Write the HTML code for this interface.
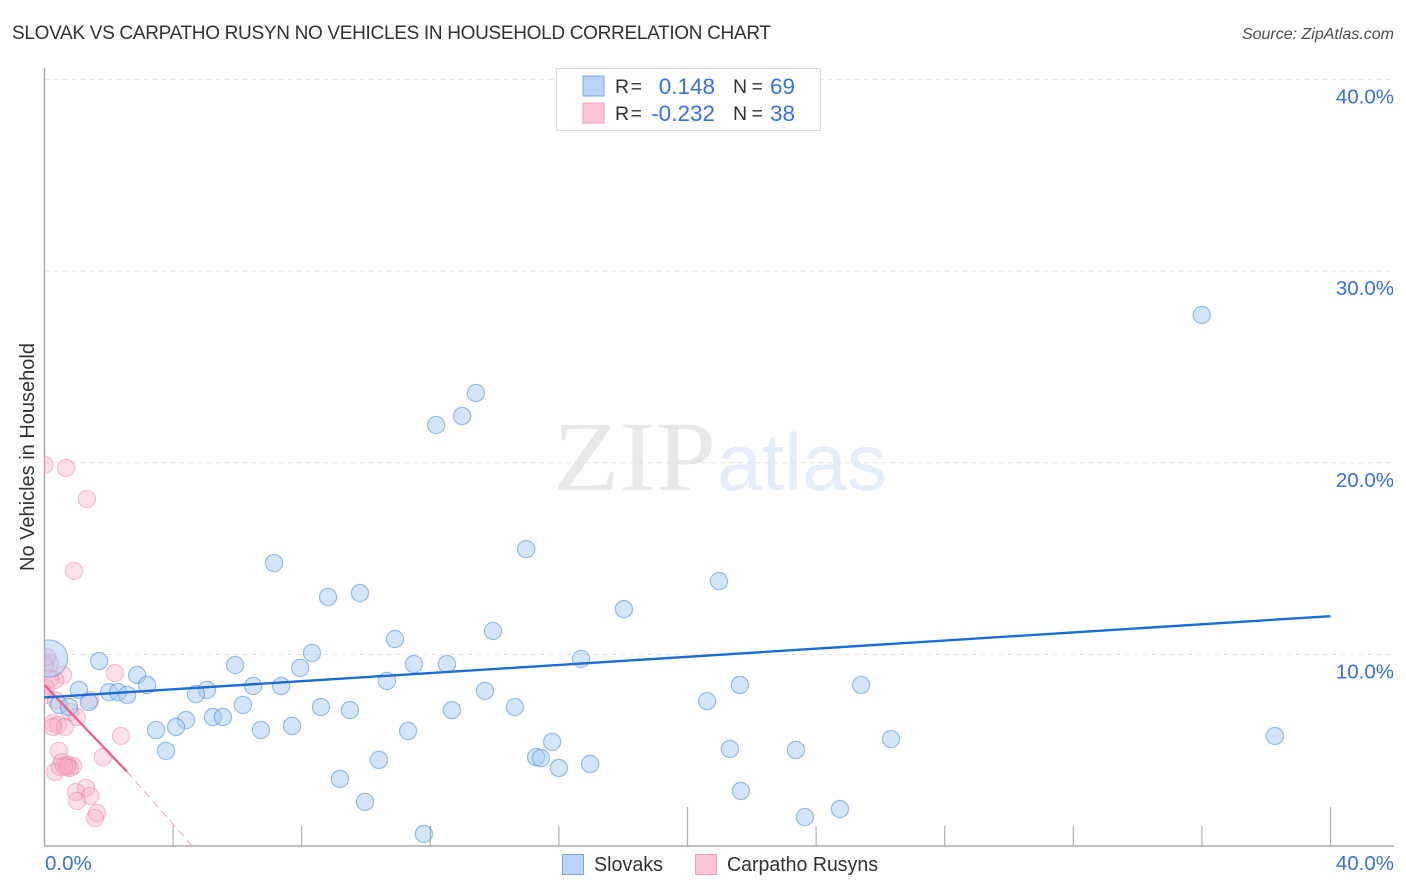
<!DOCTYPE html>
<html lang="en">
<head>
<meta charset="utf-8">
<title>Slovak vs Carpatho Rusyn No Vehicles in Household Correlation Chart</title>
<style>
html,body{margin:0;padding:0;background:#fff;width:1406px;height:892px;overflow:hidden}
svg{display:block;font-family:"Liberation Sans",sans-serif}
</style>
</head>
<body>
<svg id="chart" xmlns="http://www.w3.org/2000/svg" width="1406" height="892" viewBox="0 0 1406 892">
  <defs>
    <clipPath id="plot-clip"><rect x="44.5" y="60" width="1350" height="786"/></clipPath>
  </defs>
  <text x="12" y="39" font-size="19" fill="#2f3336" textLength="759" lengthAdjust="spacing">SLOVAK VS CARPATHO RUSYN NO VEHICLES IN HOUSEHOLD CORRELATION CHART</text>
  <text x="1394" y="39" font-size="16" font-style="italic" fill="#4a4e52" text-anchor="end">Source: ZipAtlas.com</text>

  <g>
    <text x="553" y="490" font-family="'Liberation Serif',serif" font-size="100" fill="#e8e8e8" textLength="163" lengthAdjust="spacingAndGlyphs">ZIP</text>
    <text x="717" y="490" font-size="81" fill="#e6edfa" textLength="170" lengthAdjust="spacingAndGlyphs">atlas</text>
  </g>

  <g id="grid"></g>
  <g id="axes"></g>
  <g id="pink-points" clip-path="url(#plot-clip)"></g>
  <g id="blue-points" clip-path="url(#plot-clip)"></g>
  <g id="trends"></g>
  <g id="labels"></g>

  <text transform="translate(34 457) rotate(-90)" font-size="20" fill="#2f3336" text-anchor="middle">No Vehicles in Household</text>

  <g>
    <rect x="556.5" y="68.5" width="264" height="62" fill="#fff" fill-opacity="0.86" stroke="#dcdcdc"/>
    <rect x="583" y="76" width="21" height="20" fill="#b9d3f6" stroke="#7ba9e6"/>
    <rect x="583" y="103" width="21" height="20" fill="#fcc5d6" stroke="#f09db8"/>
    <g font-size="19.5" fill="#2f3336">
      <text x="615" y="93" textLength="27" lengthAdjust="spacing">R =</text>
      <text x="733" y="93" textLength="30" lengthAdjust="spacing">N =</text>
      <text x="615" y="120" textLength="27" lengthAdjust="spacing">R =</text>
      <text x="733" y="120" textLength="30" lengthAdjust="spacing">N =</text>
    </g>
    <g font-size="22.5" fill="#3b72d1">
      <text x="715" y="94" text-anchor="end">0.148</text>
      <text x="795" y="94" text-anchor="end">69</text>
      <text x="715" y="121" text-anchor="end">-0.232</text>
      <text x="795" y="121" text-anchor="end">38</text>
    </g>
  </g>

  <g>
    <rect x="562.5" y="854.5" width="21" height="20" fill="#b9d3f6" stroke="#7ba9e6"/>
    <text x="594" y="871" font-size="20" fill="#2f3336" textLength="69" lengthAdjust="spacingAndGlyphs">Slovaks</text>
    <rect x="695.5" y="854.5" width="21" height="20" fill="#fcc5d6" stroke="#f09db8"/>
    <text x="727" y="871" font-size="20" fill="#2f3336" textLength="151" lengthAdjust="spacingAndGlyphs">Carpatho Rusyns</text>
  </g>
</svg>
<script>
const blueX = [36.00,13.42,12.99,12.18,14.98,7.14,20.98,9.81,8.82,18.02,13.95,10.90,8.32,1.70,5.93,7.95,11.49,12.52,16.69,2.88,3.19,10.65,6.49,7.36,5.05,4.71,2.01,2.29,2.57,1.07,13.70,21.63,25.40,20.61,1.38,0.45,0.76,6.17,8.60,9.50,12.67,14.63,5.24,5.55,4.40,4.09,3.47,6.73,7.70,11.31,15.79,3.78,21.32,23.37,26.33,38.27,15.29,15.44,10.40,16.97,16.00,9.19,21.66,9.97,24.74,23.65,11.80,20.17];
const blueY = [27.71,23.64,22.44,21.97,15.50,14.77,13.83,13.21,13.00,12.37,11.23,10.81,10.08,9.66,9.45,9.30,9.50,9.50,9.77,8.93,8.41,8.62,8.36,8.36,8.15,7.94,8.04,8.04,7.89,8.15,8.10,8.41,8.41,7.57,7.52,7.37,7.26,7.37,7.26,7.10,7.10,7.26,6.74,6.74,6.58,6.22,6.06,6.06,6.27,6.01,5.44,4.97,5.07,5.02,5.59,5.75,4.65,4.60,4.50,4.29,4.08,3.51,2.88,2.31,1.94,1.52,0.64,38.25];
const blueLargeX = [0.14];
const blueLargeY = [9.79];
const pinkX = [0.00,0.67,1.32,0.92,2.19,0.58,0.17,0.08,0.02,0.33,0.05,0.17,1.42,0.79,1.01,0.26,0.42,0.64,0.26,2.38,0.45,1.82,0.54,0.33,0.48,0.73,0.89,0.79,0.70,0.61,1.29,0.98,1.42,1.01,1.63,1.57,0.02,0.36];
const pinkY = [19.89,19.73,18.11,14.36,9.03,8.93,9.56,9.87,9.45,8.67,8.25,8.77,7.63,7.00,6.74,6.43,6.32,6.22,6.22,5.75,4.97,4.65,4.39,3.87,4.13,4.24,4.18,4.08,4.13,4.18,3.04,2.83,2.62,2.36,1.73,1.47,7.90,7.60];
const blueTrendX = [0, 40];
const blueTrendY = [7.76, 12.0];
const pinkTrendX = [0, 2.57];
const pinkTrendY = [8.4, 3.88];
const pinkTrendDashX = [2.57, 4.6];
const pinkTrendDashY = [3.88, 0];
const yTicks = [10, 20, 30, 40];
const yTickLabels = ["10.0%", "20.0%", "30.0%", "40.0%"];
const xTicks = [0, 4, 8, 12, 16, 20, 24, 28, 32, 36, 40];
const xMajorTicks = [20, 40];
const xTickLabels = ["0.0%", "40.0%"];

const NS = "http://www.w3.org/2000/svg";
function xScale(v) { return 44.5 + v * 32.15; }
function yScale(v) { return 846.2 - v * 19.17; }
function make(tag, parent, attrs) {
  const el = document.createElementNS(NS, tag);
  for (const k in attrs) el.setAttribute(k, attrs[k]);
  parent.appendChild(el);
  return el;
}
const grid = document.getElementById("grid");
const axes = document.getElementById("axes");
const labels = document.getElementById("labels");
const pinkG = document.getElementById("pink-points");
const blueG = document.getElementById("blue-points");
const trends = document.getElementById("trends");

yTicks.forEach(function (t) {
  const el = make("line", grid, {x1: 44.5, x2: 1394, y1: yScale(t), y2: yScale(t), stroke: "#e2e2e2", "stroke-width": 1, "stroke-dasharray": "5 4"});
  
  
});

const yAxis = make("line", axes, {x1: 44.5, x2: 44.5, y1: 68, y2: 846.5, stroke: "#aaaaaa", "stroke-width": 1.5});


const xAxis = make("line", axes, {x1: 44, x2: 1394, y1: 846, y2: 846, stroke: "#aaaaaa", "stroke-width": 1.5});


xTicks.forEach(function (t) {
  if (t === 0) return;
  const len = xMajorTicks.indexOf(t) >= 0 ? 39 : 20;
  const el = make("line", axes, {x1: xScale(t), x2: xScale(t), y1: 846 - len, y2: 846, stroke: "#b0b0b0", "stroke-width": 1.2});
  
  
});

yTickLabels.forEach(function (s, i) {
  const el = make("text", labels, {x: 1394, y: yScale(yTicks[i]) + 24, "text-anchor": "end", "font-size": 20.5, fill: "#3b72d1"});
  
  
  el.textContent = s;
});
const xLabel0 = make("text", labels, {x: 45, y: 870, "font-size": 20.5, fill: "#3b72d1"});


xLabel0.textContent = xTickLabels[0];
const xLabel1 = make("text", labels, {x: 1394, y: 870, "text-anchor": "end", "font-size": 20.5, fill: "#3b72d1"});


xLabel1.textContent = xTickLabels[1];

pinkX.forEach(function (v, i) {
  const el = make("circle", pinkG, {cx: xScale(v), cy: yScale(pinkY[i]), r: 8.6, fill: "#f8a8c2", "fill-opacity": 0.36, stroke: "#ec7fa3", "stroke-opacity": 0.45, "stroke-width": 1.2});
  
  
});
blueX.forEach(function (v, i) {
  const el = make("circle", blueG, {cx: xScale(v), cy: yScale(blueY[i]), r: 8.6, fill: "#a5c8f2", "fill-opacity": 0.48, stroke: "#5b96dc", "stroke-opacity": 0.6, "stroke-width": 1.2});
  
  
});
blueLargeX.forEach(function (v, i) {
  const el = make("circle", blueG, {cx: xScale(v), cy: yScale(blueLargeY[i]), r: 18.6, fill: "#a5c8f2", "fill-opacity": 0.48, stroke: "#5b96dc", "stroke-opacity": 0.6, "stroke-width": 1.2});
  
  
});

const pinkTrend = make("line", trends, {x1: xScale(pinkTrendX[0]), y1: yScale(pinkTrendY[0]), x2: xScale(pinkTrendX[1]), y2: yScale(pinkTrendY[1]), stroke: "#e8638f", "stroke-width": 2.4});


const pinkDash = make("line", trends, {x1: xScale(pinkTrendDashX[0]), y1: yScale(pinkTrendDashY[0]), x2: xScale(pinkTrendDashX[1]), y2: yScale(pinkTrendDashY[1]), stroke: "#f0a3bc", "stroke-width": 1, "stroke-dasharray": "8 5"});


const blueTrend = make("line", trends, {x1: xScale(blueTrendX[0]), y1: yScale(blueTrendY[0]), x2: xScale(blueTrendX[1]), y2: yScale(blueTrendY[1]), stroke: "#1f6bd6", "stroke-width": 2.4});


</script>
</body>
</html>
